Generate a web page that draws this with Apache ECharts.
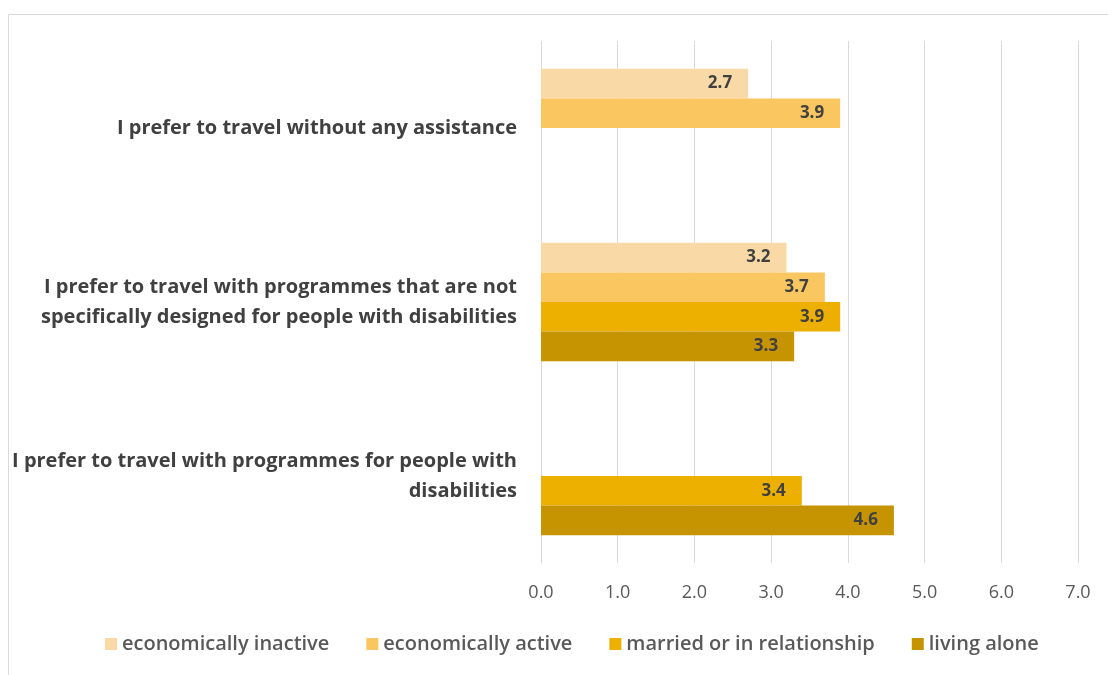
<!DOCTYPE html>
<html>
<head>
<meta charset="utf-8">
<script src="https://cdn.jsdelivr.net/npm/echarts@6/dist/echarts.min.js"></script>
<style>
  html, body { margin: 0; padding: 0; background: #ffffff; }
  #chart { width: 1108px; height: 675px; }
</style>
</head>
<body>
<div id="chart"></div>
<script>
// Statements shown on the category axis (top to bottom)
const categories = [
  'I prefer to travel without any assistance',
  'I prefer to travel with programmes that are not\nspecifically designed for people with disabilities',
  'I prefer to travel with programmes for people with\ndisabilities'
];

// Respondent groups and their mean scores per statement
const seriesNames = [
  'economically inactive',
  'economically active',
  'married or in relationship',
  'living alone'
];
const economicallyInactive = [2.7, 3.2, null];
const economicallyActive   = [3.9, 3.7, null];
const marriedOrRelationship = [null, 3.9, 3.4];
const livingAlone           = [null, 3.3, 4.6];

const xTicks = [0, 1, 2, 3, 4, 5, 6, 7];

const colors = ['#F9DAA6', '#FAC660', '#EDB000', '#C59400'];
const seriesData = [economicallyInactive, economicallyActive, marriedOrRelationship, livingAlone];

const fontFamily = '"Open Sans", Lato, sans-serif';

const chart = echarts.init(document.getElementById('chart'), null, { renderer: 'canvas' });

chart.setOption({
  animation: false,
  backgroundColor: '#ffffff',
  color: colors,
  graphic: [{
    type: 'rect',
    silent: true,
    shape: { x: 8.5, y: 14.5, width: 1120, height: 700 },
    style: { fill: 'none', stroke: '#d9d9d9', lineWidth: 1 }
  }],
  grid: { left: 541, right: 30, top: 41, bottom: 112, containLabel: false },
  legend: {
    left: 100,
    top: 629,
    itemWidth: 12,
    itemHeight: 12,
    itemGap: 37,
    icon: 'rect',
    textStyle: { fontFamily: fontFamily, fontSize: 20, fontWeight: 600, color: '#595959', padding: [0, 0, 0, 0] },
    data: seriesNames
  },
  xAxis: {
    type: 'value',
    min: xTicks[0],
    max: xTicks[xTicks.length - 1],
    interval: 1,
    axisLine: { show: false },
    axisTick: { show: false },
    splitLine: { show: true, lineStyle: { color: '#d9d9d9', width: 1 } },
    axisLabel: {
      margin: 21,
      fontFamily: fontFamily,
      fontSize: 18,
      color: '#595959',
      formatter: v => v.toFixed(1)
    }
  },
  yAxis: {
    type: 'category',
    inverse: true,
    data: categories,
    axisLine: { show: false },
    axisTick: { show: false },
    axisLabel: {
      margin: 24,
      fontFamily: fontFamily,
      fontSize: 20,
      fontWeight: 'bold',
      color: '#404040',
      lineHeight: 30,
      align: 'right'
    }
  },
  series: seriesNames.map((name, i) => ({
    name: name,
    type: 'bar',
    data: seriesData[i],
    barGap: '0%',
    barCategoryGap: '32%',
    itemStyle: { color: colors[i] },
    label: {
      show: true,
      position: 'insideRight',
      distance: 16,
      fontFamily: fontFamily,
      fontSize: 17,
      fontWeight: 'bold',
      color: '#404040',
      formatter: p => (p.value == null ? '' : p.value.toFixed(1))
    }
  }))
});
</script>
</body>
</html>
